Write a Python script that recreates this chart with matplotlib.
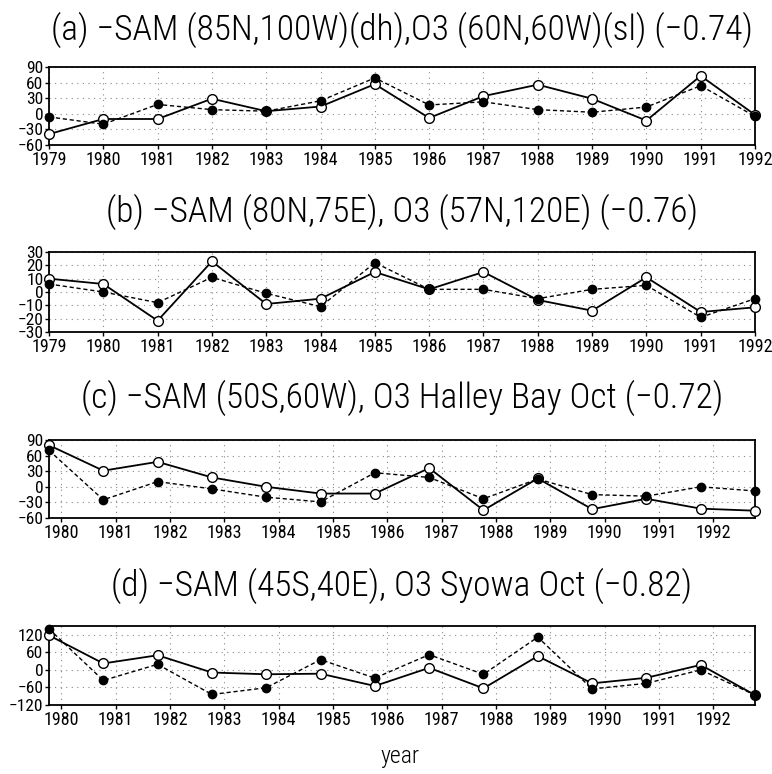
import numpy as np
import matplotlib
matplotlib.use('Agg')
import matplotlib.pyplot as plt

plt.rcParams['font.family'] = ['Roboto Condensed', 'DejaVu Sans']
plt.rcParams['font.stretch'] = 'condensed'

years = np.arange(1979, 1993)

# (a) -SAM (85N,100W)(dh) vs O3 (60N,60W)(sl)
a_open = [-39, -10, -10, 29, 5, 14, 57, -8, 34, 56, 29, -13, 73, -2]
a_fill = [-6, -20, 18, 8, 5, 25, 69, 17, 23, 8, 3, 13, 54, -5]

# (b) -SAM (80N,75E) vs O3 (57N,120E)
b_open = [10, 6, -21.5, 23, -9, -5, 15, 2, 15, -6, -14, 11, -15, -11.5]
b_fill = [6, 0, -8, 11, -1, -11, 22, 2, 2, -5, 2, 5, -19, -5]

# (c) -SAM (50S,60W) vs O3 Halley Bay Oct
c_open = [80, 31, 48, 18, 0, -13, -13, 36, -45, 16, -43, -23, -42, -46]
c_fill = [70, -25, 10, -4, -20, -29, 27, 18, -23, 15, -15, -18, 0, -8]

# (d) -SAM (45S,40E) vs O3 Syowa Oct
d_open = [118, 22, 50, -9, -15, -13, -55, 7, -63, 47, -46, -27, 17, -86]
d_fill = [140, -36, 19, -84, -61, 35, -28, 52, -15, 112, -65, -46, 0, -86]

titles = ['(a) \u2212SAM (85N,100W)(dh),O3 (60N,60W)(sl) (\u22120.74)',
          '(b) \u2212SAM (80N,75E), O3 (57N,120E) (\u22120.76)',
          '(c) \u2212SAM (50S,60W), O3 Halley Bay Oct (\u22120.72)',
          '(d) \u2212SAM (45S,40E), O3 Syowa Oct (\u22120.82)']

panels = [
    (a_open, a_fill, (-60, 90), np.arange(-60, 91, 30), 0.0),
    (b_open, b_fill, (-30, 30), np.arange(-30, 31, 10), 0.0),
    (c_open, c_fill, (-60, 90), np.arange(-60, 91, 30), 0.77),
    (d_open, d_fill, (-120, 150), np.arange(-120, 121, 60), 0.77),
]

# axes boxes in pixels (top, bottom) of a 772x774 figure
W, H = 772, 774
boxes = [(67, 145), (252, 332), (440, 518), (626, 705)]
title_y = [30, 212, 398, 586]

fig = plt.figure(figsize=(7.72, 7.74), dpi=100)

for (op, fl, ylim, yt, off), (top, bot), title, ty in zip(panels, boxes, titles, title_y):
    ax = fig.add_axes([49 / W, 1 - bot / H, (755 - 49) / W, (bot - top) / H])
    x = years + off
    ax.plot(x, op, '-', color='black', lw=1.3, marker='o', ms=7,
            mfc='white', mec='black', mew=1.0, zorder=3, clip_on=False)
    ax.plot(x, fl, '--', color='black', lw=1.0, dashes=(3, 2), marker='o', ms=6,
            mfc='black', mec='black', zorder=4, clip_on=False)
    ax.set_xlim(x[0], x[-1])
    ax.set_ylim(*ylim)
    if off == 0:
        ax.set_xticks(years)
    else:
        ax.set_xticks(years[1:])
    ax.set_yticks(yt)
    ax.grid(True, linestyle=(0, (1, 4)), color='#888888', lw=0.8)
    ax.tick_params(axis='x', labelsize=13, length=3, width=1, pad=1)
    ax.tick_params(axis='y', labelsize=12.5, length=3, width=1, pad=1)
    for s in ax.spines.values():
        s.set_linewidth(1.3)
    fig.text(402 / W, 1 - ty / H, title, ha='center', va='center', fontsize=25.5,
             fontweight='light')

fig.text(400 / W, 1 - 757 / H, 'year', ha='center', va='center', fontsize=17,
         fontweight='light')

fig.savefig('out.png', dpi=100)
